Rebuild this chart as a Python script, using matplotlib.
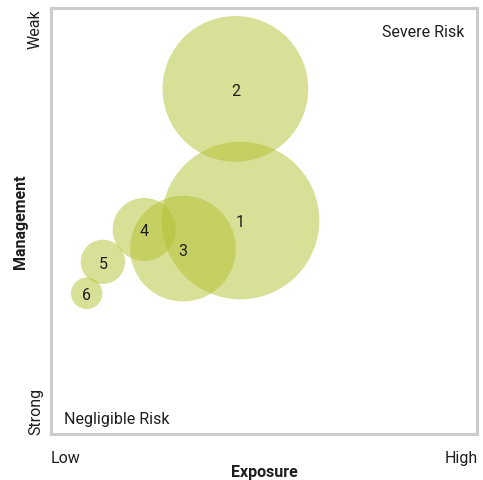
import matplotlib
matplotlib.use("Agg")
import matplotlib.pyplot as plt
from matplotlib.patches import Circle

plt.rcParams['font.family'] = ['Roboto', 'DejaVu Sans']

# Risk items: exposure (x), management weakness (y), bubble radius
labels = ["1", "2", "3", "4", "5", "6"]
exposure = [44.6, 43.4, 31.1, 22.0, 12.3, 8.5]
management = [50.0, 80.9, 43.4, 47.9, 40.3, 32.9]
radius = [18.5, 17.1, 12.4, 7.4, 5.2, 3.7]

x_ticks = ["Low", "High"]
y_ticks = ["Strong", "Weak"]

W, H = 483, 481
FS = 11.5
TXT = "#1e1e1e"


def fx(px):
    return px / W


def fy(py):
    return 1 - py / H


fig = plt.figure(figsize=(W / 100, H / 100), dpi=100)
ax = fig.add_axes([fx(50.5), fy(434.5), 426 / W, 426 / H])
ax.set_xlim(0, 100)
ax.set_ylim(0, 100)

for lab, x, y, r in zip(labels, exposure, management, radius):
    ax.add_patch(Circle((x, y), r, facecolor="#b3c12f", alpha=0.5,
                        edgecolor="none"))
    ax.text(x, y, lab, ha="center", va="center_baseline", fontsize=FS,
            color=TXT)

for s in ax.spines.values():
    s.set_color("#cccccc")
    s.set_linewidth(2.2)

ax.set_xticks([])
ax.set_yticks([])

# quadrant captions
fig.text(fx(464.5), fy(37.3), "Severe Risk", ha="right", va="baseline",
         fontsize=FS, color=TXT)
fig.text(fx(64.5), fy(424.3), "Negligible Risk", ha="left", va="baseline",
         fontsize=FS, color=TXT)

# axis end labels
fig.text(fx(51), fy(463.3), x_ticks[0], ha="left", va="baseline",
         fontsize=FS, color=TXT)
fig.text(fx(477.5), fy(463.3), x_ticks[1], ha="right", va="baseline",
         fontsize=FS, color=TXT)
fig.text(fx(40), fy(435.5), y_ticks[0], ha="left", va="baseline",
         rotation=90, rotation_mode="anchor", fontsize=FS, color=TXT)
fig.text(fx(40), fy(9), y_ticks[1], ha="right", va="baseline",
         rotation=90, rotation_mode="anchor", fontsize=FS, color=TXT)

# axis titles
fig.text(fx(264.5), fy(476.7), "Exposure", ha="center", va="baseline",
         fontsize=FS, fontweight="bold", color=TXT)
fig.text(fx(25.5), fy(222), "Management", ha="center", va="baseline",
         rotation=90, rotation_mode="anchor", fontsize=FS,
         fontweight="bold", color=TXT)

fig.savefig("out.png", dpi=100, facecolor="white")
